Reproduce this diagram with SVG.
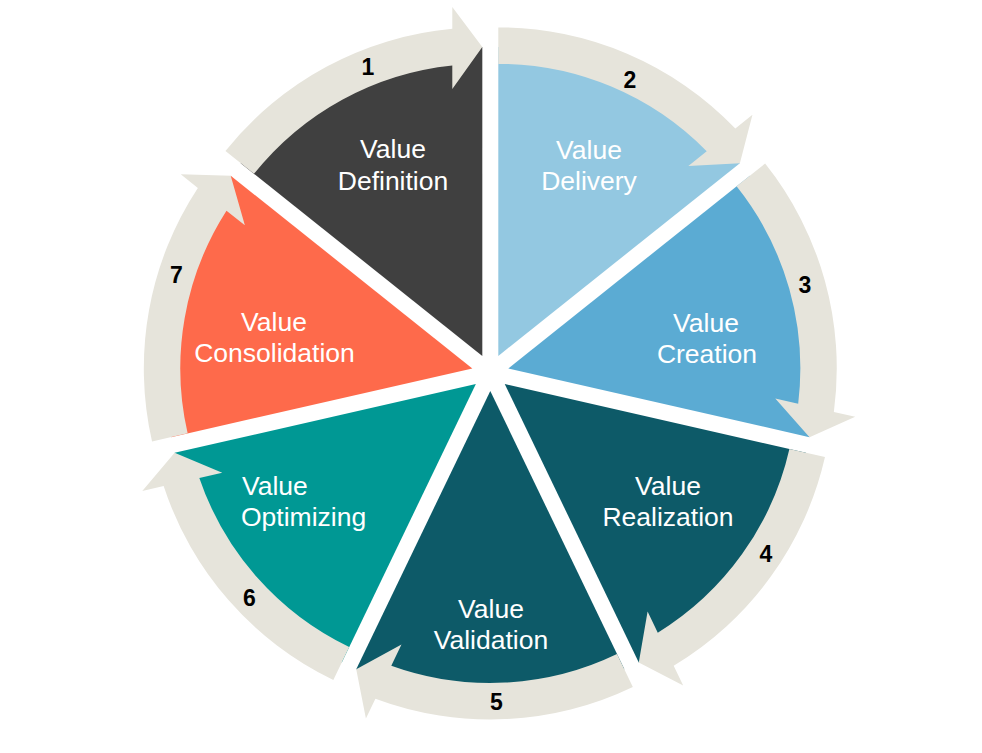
<svg xmlns="http://www.w3.org/2000/svg" width="982" height="753" viewBox="0 0 982 753">
<defs>
<path id="sector" d="M0,0 L192.66,-241.59 A309,309 0 0 1 309,0 Z"/>
<path id="arrow" d="M204.82,-256.83 A328.5,328.5 0 0 1 327.1,-30 L349,-30 L309,0 L267,-30 L290.5,-30 A292,292 0 0 0 182.06,-228.30 Z"/>
</defs>
<style>
.lbl{font-family:"Liberation Sans",Arial,sans-serif;font-size:26.5px;fill:#ffffff;text-anchor:middle}
.num{font-family:"Liberation Sans",Arial,sans-serif;font-size:23px;font-weight:bold;fill:#000000;text-anchor:middle}
.band{fill:#E6E4DB}
</style>
<rect width="982" height="753" fill="#ffffff"/>
<g id="node-definition">
<use href="#sector" fill="#404040" transform="translate(482.30,355.88) rotate(-90)"/>
<text class="lbl" x="393" y="158">Value</text>
<text class="lbl" x="393" y="189.5">Definition</text>
</g>
<g id="node-delivery">
<use href="#sector" fill="#93C8E1" transform="translate(498.30,355.88) rotate(-38.5714)"/>
<text class="lbl" x="589" y="159">Value</text>
<text class="lbl" x="589" y="190">Delivery</text>
</g>
<g id="node-creation">
<use href="#sector" fill="#5BABD3" transform="translate(508.29,368.39) rotate(12.8571)"/>
<text class="lbl" x="706" y="332">Value</text>
<text class="lbl" x="707" y="362.5">Creation</text>
</g>
<g id="node-realization">
<use href="#sector" fill="#0D5A68" transform="translate(504.72,384.00) rotate(64.2857)"/>
<text class="lbl" x="668" y="495">Value</text>
<text class="lbl" x="668" y="526">Realization</text>
</g>
<g id="node-validation">
<use href="#sector" fill="#0D5A68" transform="translate(490.30,390.95) rotate(115.7143)"/>
<text class="lbl" x="491" y="617.5">Value</text>
<text class="lbl" x="491" y="648.5">Validation</text>
</g>
<g id="node-optimizing">
<use href="#sector" fill="#009894" transform="translate(475.87,384.00) rotate(167.1429)"/>
<text class="lbl" x="242" y="495" text-anchor="start" style="text-anchor:start">Value</text>
<text class="lbl" x="241" y="526" style="text-anchor:start">Optimizing</text>
</g>
<g id="node-consolidation">
<use href="#sector" fill="#FE6A4B" transform="translate(472.31,368.39) rotate(218.5714)"/>
<text class="lbl" x="274" y="331">Value</text>
<text class="lbl" x="274.5" y="362">Consolidation</text>
</g>
<g id="connectors">
<use href="#arrow" class="band" transform="translate(482.30,355.88) rotate(-90)"/>
<use href="#arrow" class="band" transform="translate(498.30,355.88) rotate(-38.5714)"/>
<use href="#arrow" class="band" transform="translate(508.29,368.39) rotate(12.8571)"/>
<use href="#arrow" class="band" transform="translate(504.72,384.00) rotate(64.2857)"/>
<use href="#arrow" class="band" transform="translate(490.30,390.95) rotate(115.7143)"/>
<use href="#arrow" class="band" transform="translate(475.87,384.00) rotate(167.1429)"/>
<use href="#arrow" class="band" transform="translate(472.31,368.39) rotate(218.5714)"/>
<text class="num" x="368" y="75">1</text>
<text class="num" x="630" y="88">2</text>
<text class="num" x="805" y="293">3</text>
<text class="num" x="766" y="562">4</text>
<text class="num" x="496.5" y="710">5</text>
<text class="num" x="249.5" y="606">6</text>
<text class="num" x="176.5" y="282.5">7</text>
</g>
</svg>
